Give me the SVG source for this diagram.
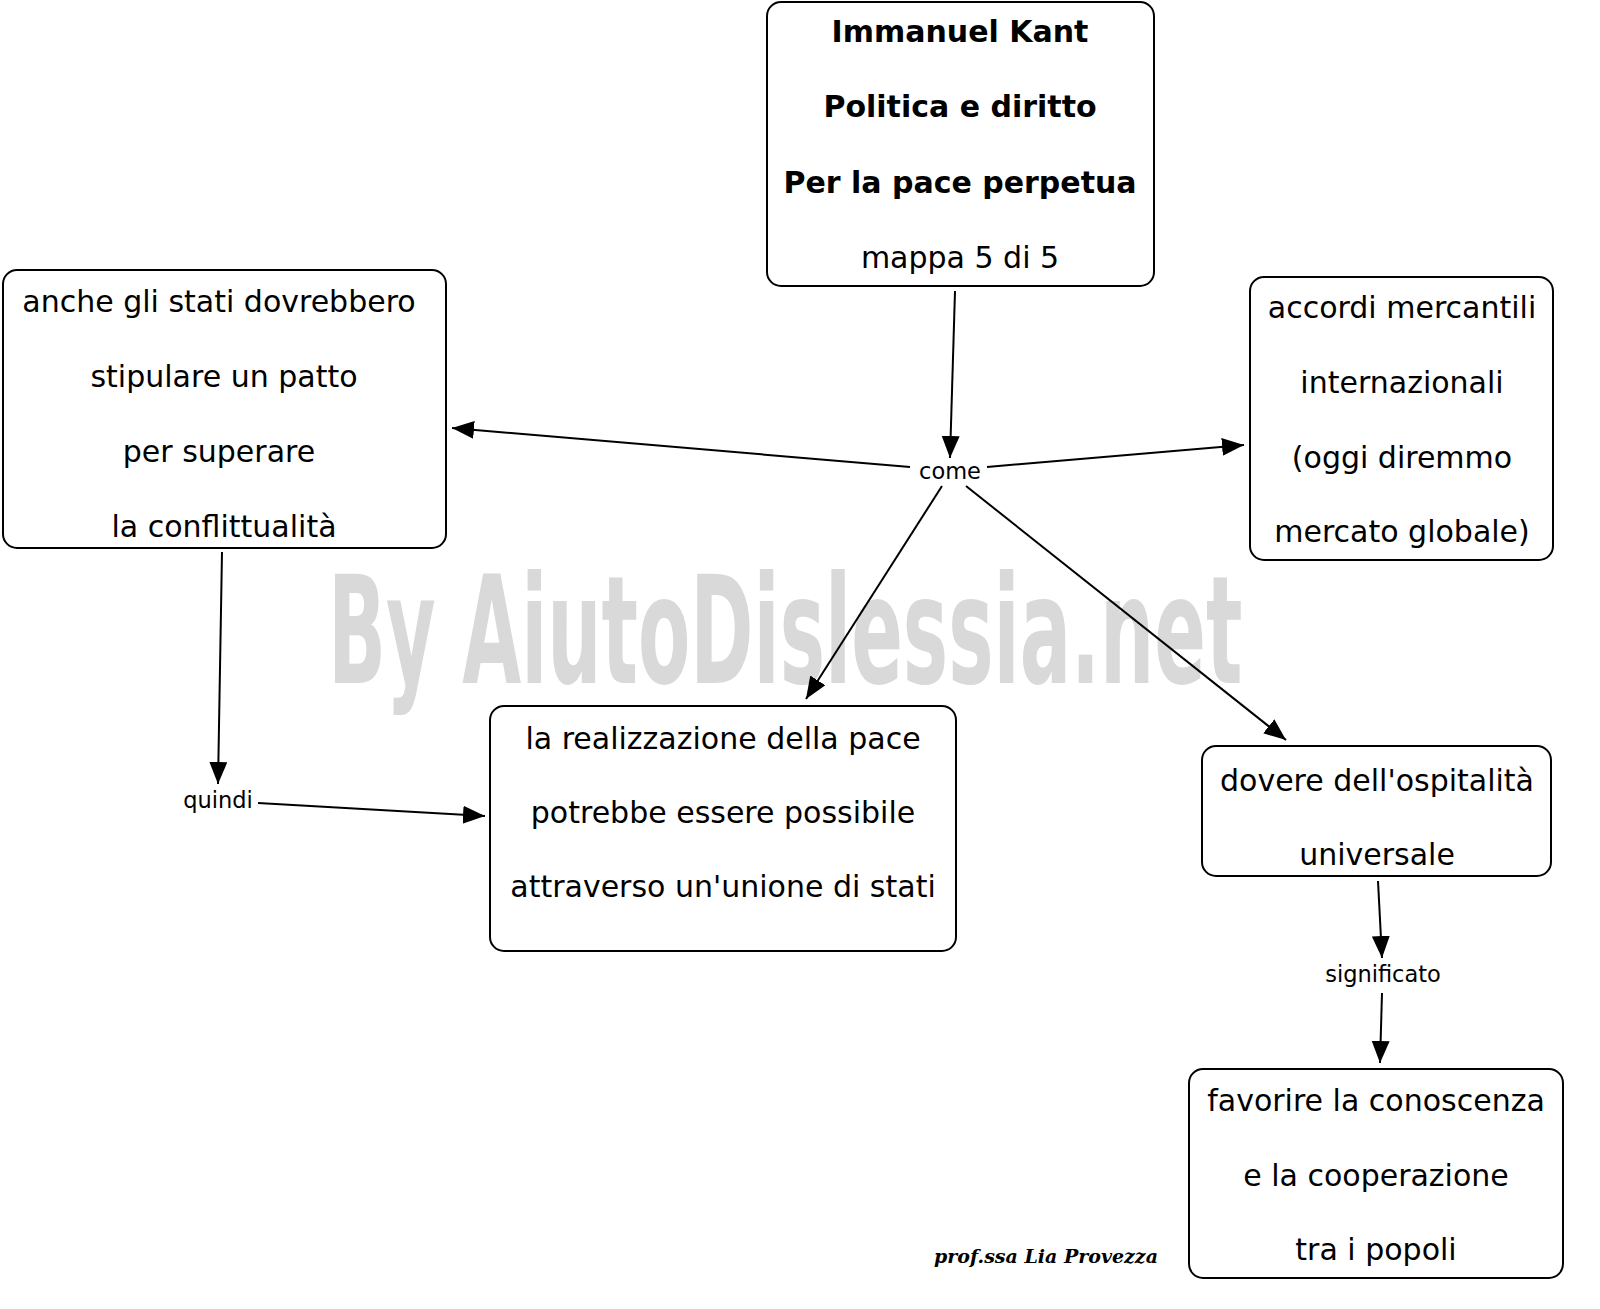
<svg xmlns="http://www.w3.org/2000/svg" width="1600" height="1309" viewBox="0 0 1600 1309">
<defs>
<style>
.box{fill:#fff;stroke:#000;stroke-width:2}
.t{font-family:"DejaVu Sans",Verdana,sans-serif;font-size:30px;fill:#000;text-anchor:middle}
.b{font-weight:bold}
.lbl{font-family:"DejaVu Sans",Verdana,sans-serif;font-size:22.5px;fill:#000;text-anchor:middle}
.c{stroke:#000;stroke-width:2;fill:none;marker-end:url(#ah)}
</style>
<marker id="ah" markerUnits="userSpaceOnUse" markerWidth="24" markerHeight="20" refX="22" refY="9" orient="auto">
<path d="M0,0 L22,9 L0,18 z" fill="#000"/>
</marker>
</defs>
<rect width="1600" height="1309" fill="#fff"/>
<text transform="translate(328,683) scale(0.508,1)" x="0" y="0" font-family="'DejaVu Sans',sans-serif" font-weight="bold" font-size="150" fill="#d9d9d9" textLength="1800" lengthAdjust="spacingAndGlyphs">By AiutoDislessia.net</text>
<g id="connectors">
<line class="c" x1="955" y1="291" x2="950" y2="458"/>
<line class="c" x1="910" y1="467" x2="452" y2="428"/>
<line class="c" x1="987" y1="467" x2="1244" y2="445"/>
<line class="c" x1="942" y1="486" x2="806" y2="699"/>
<line class="c" x1="966" y1="486" x2="1286" y2="740"/>
<line class="c" x1="222" y1="552" x2="218" y2="784"/>
<line class="c" x1="258" y1="803" x2="485" y2="816"/>
<line class="c" x1="1378" y1="881" x2="1382" y2="958"/>
<line class="c" x1="1382" y1="993" x2="1380" y2="1063"/>
<text class="lbl" x="950" y="479">come</text>
<text class="lbl" x="218" y="808">quindi</text>
<text class="lbl" x="1383" y="982">significato</text>
</g>
<g id="n-kant">
<rect class="box" x="767" y="2" width="387" height="284" rx="14"/>
<text class="t b" x="960" y="42">Immanuel Kant</text>
<text class="t b" x="960" y="117">Politica e diritto</text>
<text class="t b" x="960" y="193">Per la pace perpetua</text>
<text class="t" x="960" y="268">mappa 5 di 5</text>
</g>
<g id="n-stati">
<rect class="box" x="3" y="270" width="443" height="278" rx="14"/>
<text class="t" x="219" y="312">anche gli stati dovrebbero</text>
<text class="t" x="224" y="387">stipulare un patto</text>
<text class="t" x="219" y="462">per superare</text>
<text class="t" x="224" y="537">la conflittualità</text>
</g>
<g id="n-accordi">
<rect class="box" x="1250" y="277" width="303" height="283" rx="14"/>
<text class="t" x="1402" y="318">accordi mercantili</text>
<text class="t" x="1402" y="393">internazionali</text>
<text class="t" x="1402" y="468">(oggi diremmo</text>
<text class="t" x="1402" y="542">mercato globale)</text>
</g>
<g id="n-pace">
<rect class="box" x="490" y="706" width="466" height="245" rx="14"/>
<text class="t" x="723" y="749">la realizzazione della pace</text>
<text class="t" x="723" y="823">potrebbe essere possibile</text>
<text class="t" x="723" y="897">attraverso un'unione di stati</text>
</g>
<g id="n-dovere">
<rect class="box" x="1202" y="746" width="349" height="130" rx="14"/>
<text class="t" x="1377" y="791">dovere dell'ospitalità</text>
<text class="t" x="1377" y="865">universale</text>
</g>
<g id="n-favorire">
<rect class="box" x="1189" y="1069" width="374" height="209" rx="14"/>
<text class="t" x="1376" y="1111">favorire la conoscenza</text>
<text class="t" x="1376" y="1186">e la cooperazione</text>
<text class="t" x="1376" y="1260">tra i popoli</text>
</g>
<text x="1046" y="1263" font-family="'DejaVu Serif',serif" font-style="italic" font-weight="bold" font-size="19" text-anchor="middle" fill="#000">prof.ssa Lia Provezza</text>
</svg>
